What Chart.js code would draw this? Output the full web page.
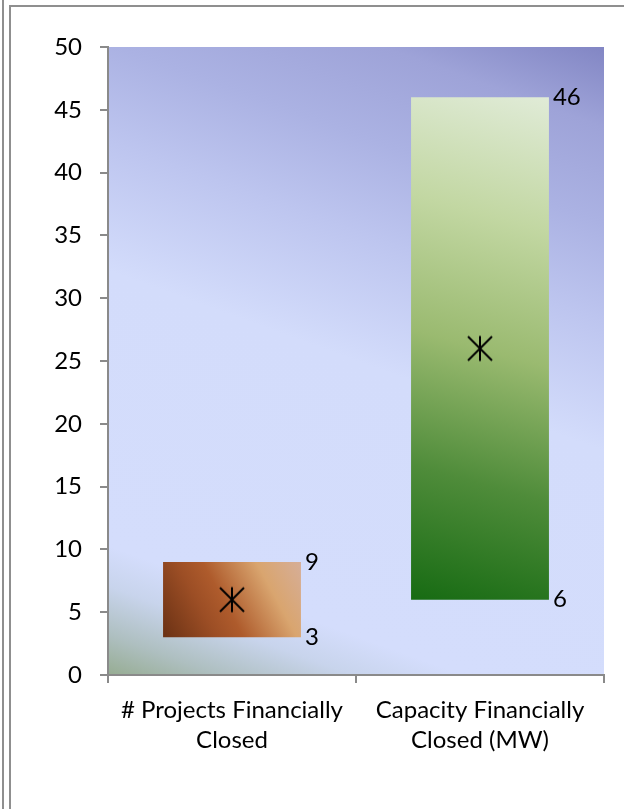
<!DOCTYPE html>
<html>
<head>
<meta charset="utf-8">
<script src="https://cdn.jsdelivr.net/npm/chart.js@4.4.1/dist/chart.umd.min.js"></script>
<style>
  html, body { margin: 0; padding: 0; background: #fff; }
  #wrap { position: relative; width: 624px; height: 809px; overflow: hidden; }
  .rule { position: absolute; background: #8f8f8f; }
  canvas { position: absolute; left: 0; top: 0; }
</style>
</head>
<body>
<div id="wrap">
  <div class="rule" style="left:2px; top:0; width:2px; height:809px;"></div>
  <div class="rule" style="left:9px; top:5px; width:2px; height:804px;"></div>
  <div class="rule" style="left:9px; top:5px; width:615px; height:2px;"></div>
  <canvas id="chart" width="624" height="809"></canvas>
</div>
<script>
const categories = [
    ['# Projects Financially', 'Closed'],
    ['Capacity Financially', 'Closed (MW)']
];
const lowValues = [3, 6];
const highValues = [9, 46];
const midValues = [6, 26];
const yTicks = { min: 0, max: 50, step: 5 };

const AXIS_GREY = '#8a8a8a';
const FONT = 'Lato, "Open Sans", sans-serif';
const FONT_SIZE = 24;

// Excel-style "star" marker: an X with a vertical stroke through it
function makeStar() {
    const c = document.createElement('canvas');
    c.width = 28; c.height = 28;
    const g = c.getContext('2d');
    g.strokeStyle = '#000';
    g.lineWidth = 2;
    g.beginPath();
    g.moveTo(2, 2); g.lineTo(26, 26);
    g.moveTo(26, 2); g.lineTo(2, 26);
    g.moveTo(14, 1.5); g.lineTo(14, 26.5);
    g.stroke();
    return c;
}

const barStops = [
    [[0, '#6a3114'], [0.3, '#9c4e25'], [0.45, '#ae5b2c'], [0.75, '#d9a56f'], [1, '#d6ae98']],
    [[0, '#176b13'], [0.25, '#4f8c3a'], [0.5, '#9aba70'], [0.75, '#c2d7a2'], [1, '#e0ebd7']]
];

function barFill(ctx) {
    const chart = ctx.chart;
    if (!chart.chartArea || !chart.scales.x) return '#a55';
    const xs = chart.scales.x, ys = chart.scales.y;
    const i = ctx.dataIndex;
    const half = xs.width / categories.length * 0.556 / 2;
    const cx = xs.getPixelForValue(i);
    const g = chart.ctx.createLinearGradient(
        cx - half, ys.getPixelForValue(lowValues[i]),
        cx + half, ys.getPixelForValue(highValues[i]));
    barStops[i].forEach(s => g.addColorStop(s[0], s[1]));
    return g;
}

// plot area wash: greenish corner bottom-left, pale blue band, slate blue top-right
const plotBackground = {
    id: 'plotBackground',
    beforeDraw(chart) {
        const a = chart.chartArea;
        const ctx = chart.ctx;
        const len = 760;
        const g = ctx.createLinearGradient(a.left, a.bottom,
            a.left + len * 0.342, a.bottom - len * 0.94);
        g.addColorStop(0, '#96ac92');
        g.addColorStop(0.05, '#aebfc0');
        g.addColorStop(0.11, '#c8d4ec');
        g.addColorStop(0.16, '#d4ddfc');
        g.addColorStop(0.5, '#d3dcfb');
        g.addColorStop(0.66, '#bdc5ef');
        g.addColorStop(0.78, '#abb2e3');
        g.addColorStop(0.9, '#9ea3d8');
        g.addColorStop(1, '#8286c4');
        ctx.save();
        ctx.fillStyle = g;
        ctx.fillRect(a.left, a.top, a.right - a.left, a.bottom - a.top);
        ctx.restore();
    }
};

// high / low values written just right of each bar
const endLabels = {
    id: 'endLabels',
    afterDatasetsDraw(chart) {
        const meta = chart.getDatasetMeta(1);
        const ys = chart.scales.y;
        const ctx = chart.ctx;
        ctx.save();
        ctx.font = FONT_SIZE + 'px ' + FONT;
        ctx.fillStyle = '#000';
        ctx.textAlign = 'left';
        ctx.textBaseline = 'middle';
        meta.data.forEach((bar, i) => {
            const right = bar.x + bar.width / 2 + 4;
            ctx.fillText(String(highValues[i]), right, ys.getPixelForValue(highValues[i]));
            ctx.fillText(String(lowValues[i]), right, ys.getPixelForValue(lowValues[i]));
        });
        ctx.restore();
    }
};

new Chart(document.getElementById('chart'), {
    type: 'bar',
    data: {
        labels: categories,
        datasets: [
            {
                type: 'line',
                data: midValues,
                showLine: false,
                pointStyle: makeStar(),
                order: 0
            },
            {
                data: lowValues.map((v, i) => [v, highValues[i]]),
                backgroundColor: barFill,
                borderWidth: 0,
                categoryPercentage: 1,
                barPercentage: 0.556,
                order: 1
            }
        ]
    },
    options: {
        responsive: false,
        animation: false,
        layout: { padding: { left: 0, top: 47, right: 20, bottom: 0 } },
        plugins: { legend: { display: false }, tooltip: { enabled: false } },
        scales: {
            x: {
                offset: true,
                grid: { offset: true, drawOnChartArea: false, tickLength: 8, color: AXIS_GREY, lineWidth: 2 },
                border: { color: AXIS_GREY, width: 2 },
                ticks: { color: '#000', font: { family: FONT, size: FONT_SIZE, lineHeight: '30px' }, padding: 12, maxRotation: 0 },
                afterFit(scale) { scale.height = 134; }
            },
            y: {
                min: yTicks.min,
                max: yTicks.max,
                grid: { drawOnChartArea: false, tickLength: 8, color: AXIS_GREY, lineWidth: 2 },
                border: { color: AXIS_GREY, width: 2 },
                ticks: { stepSize: yTicks.step, color: '#000', font: { family: FONT, size: FONT_SIZE }, padding: 18 },
                afterFit(scale) { scale.width = 108; }
            }
        }
    },
    plugins: [plotBackground, endLabels]
});
</script>
</body>
</html>
